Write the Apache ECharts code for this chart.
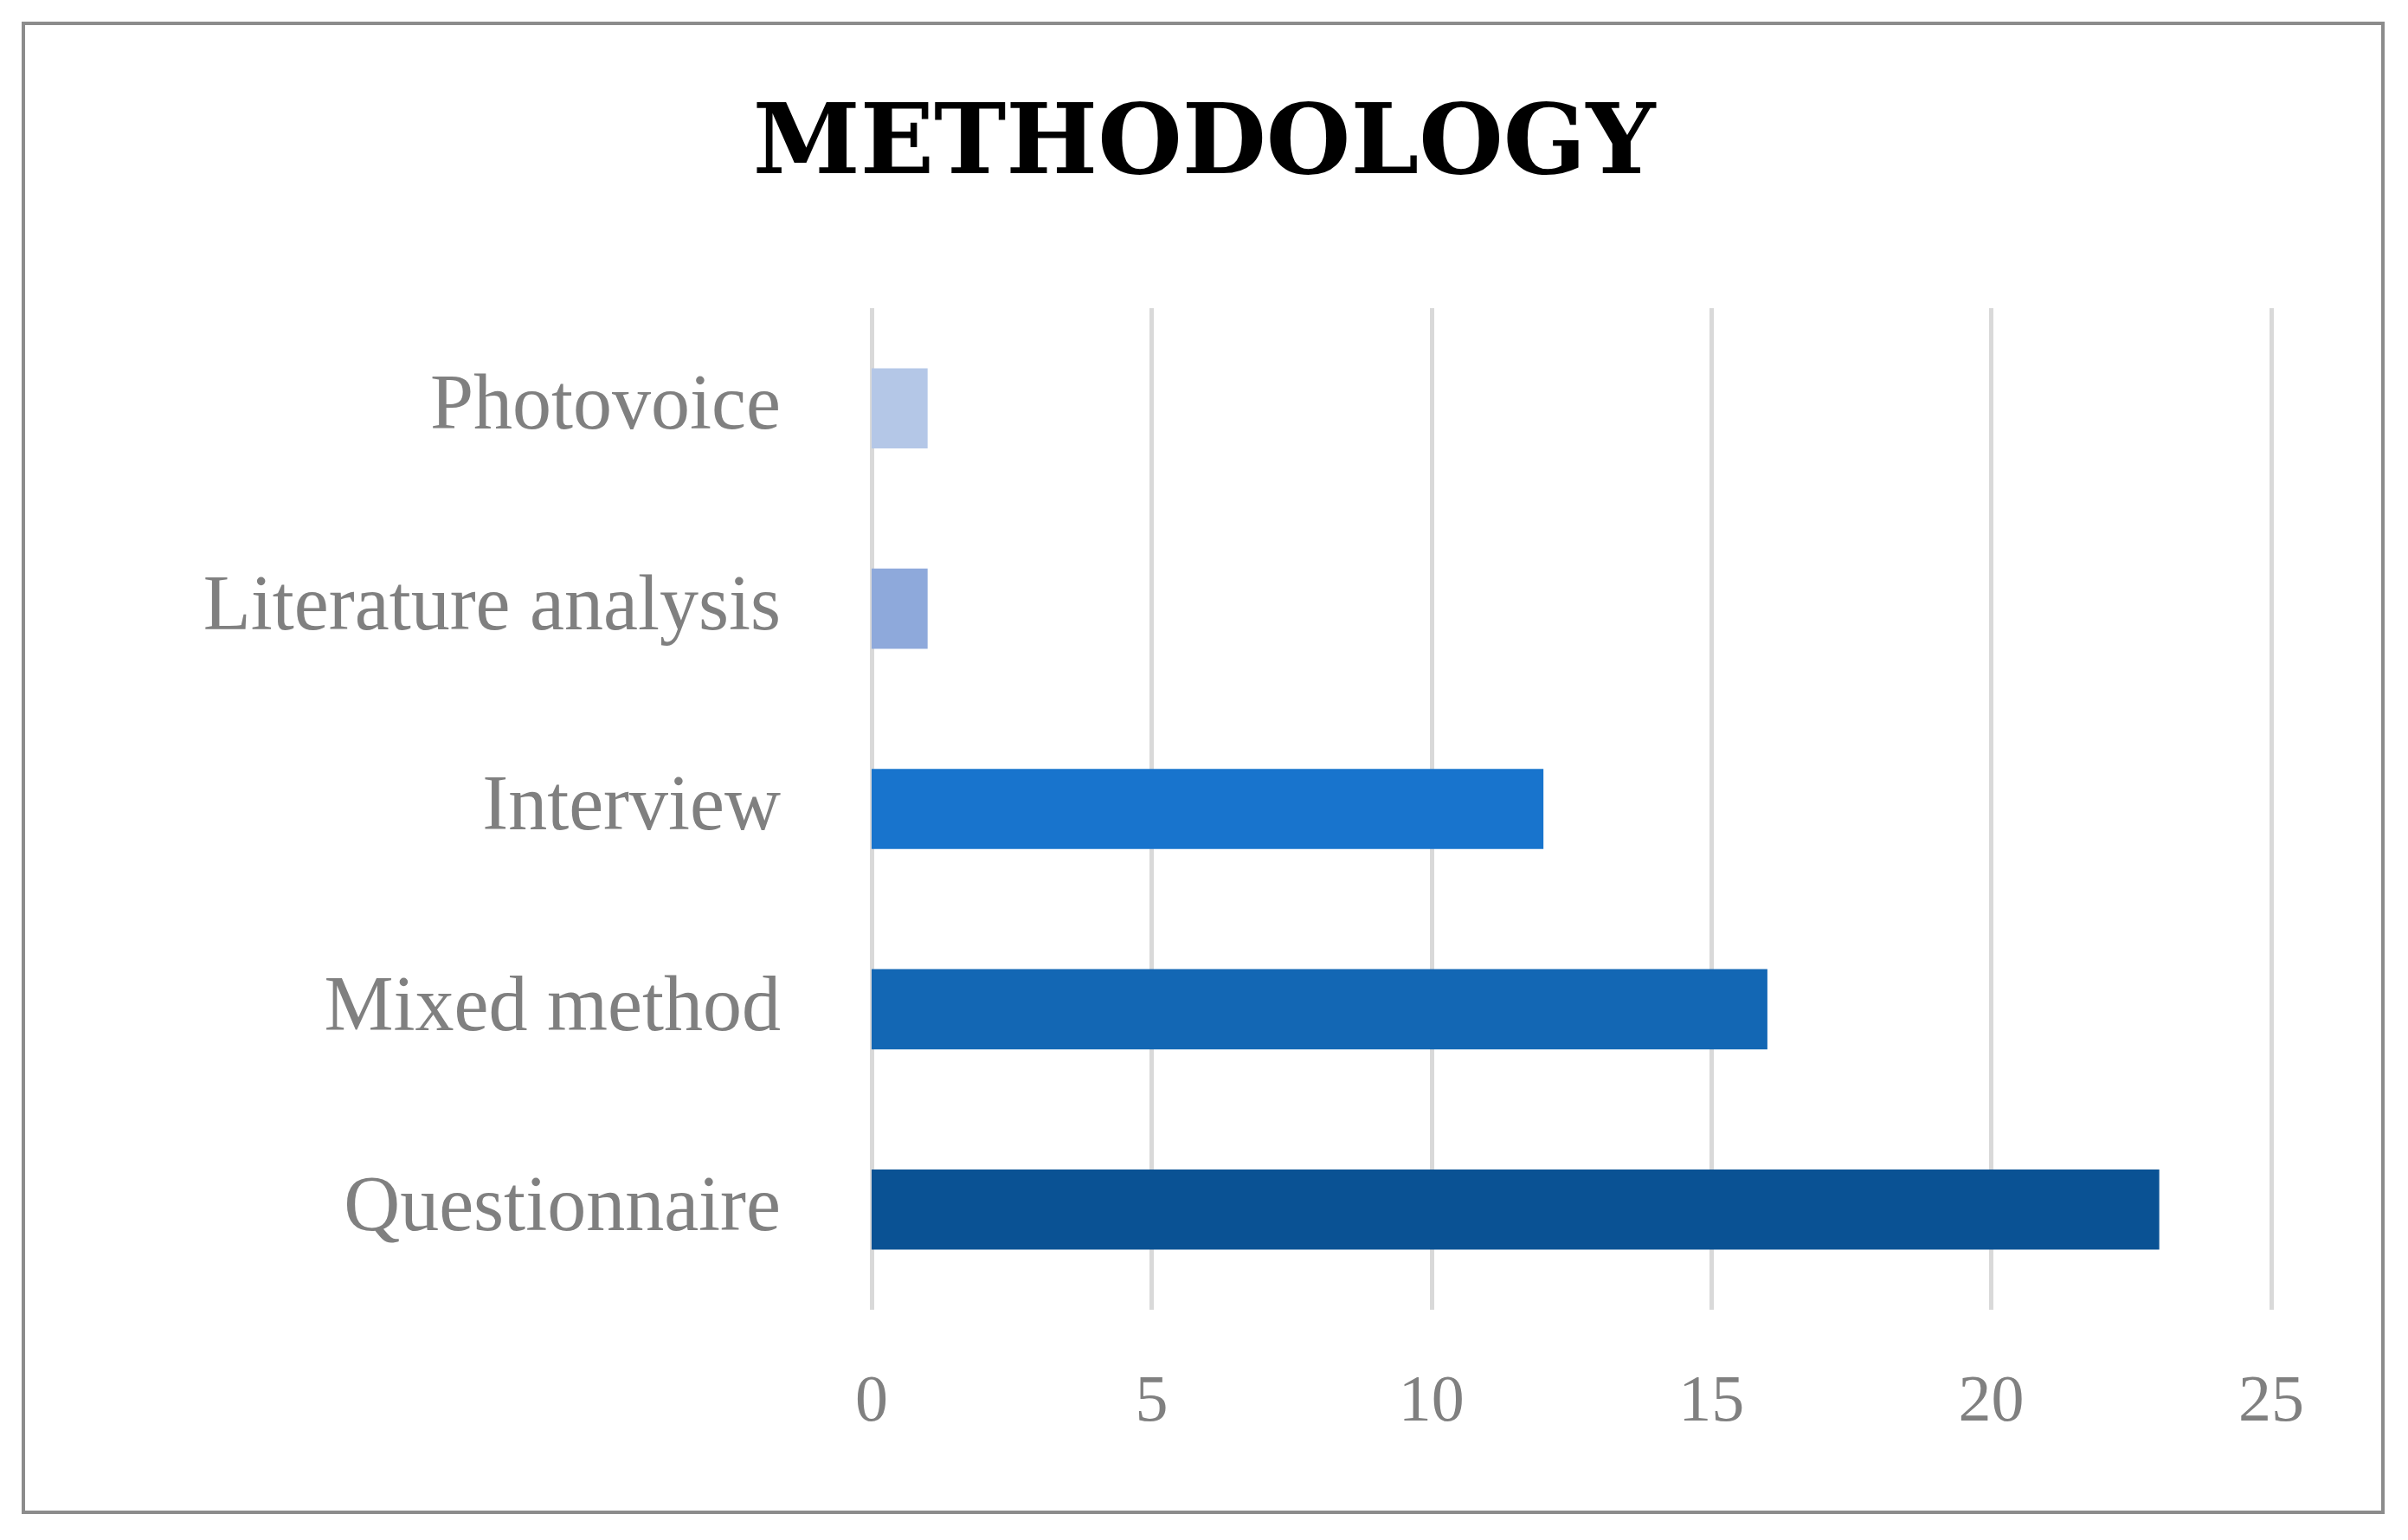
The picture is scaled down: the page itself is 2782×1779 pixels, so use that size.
<!DOCTYPE html>
<html>
<head>
<meta charset="utf-8">
<script src="https://cdn.jsdelivr.net/npm/echarts@6/dist/echarts.min.js"></script>
<style>
html,body{margin:0;padding:0;background:#fff;}
#chart{width:2782px;height:1779px;}
#frame{position:absolute;left:25px;top:25px;width:2730px;height:1724px;border:4px solid #8c8c8c;box-sizing:border-box;pointer-events:none;}
</style>
</head>
<body>
<div id="chart"></div>
<div id="frame"></div>
<script>
const categories = ["Questionnaire", "Mixed method", "Interview", "Literature analysis", "Photovoice"];
const values = [23, 16, 12, 1, 1];
const colors = ["#0A5294", "#1367B4", "#1874CD", "#8EA9DB", "#B4C7E7"];
const xTicks = [0, 5, 10, 15, 20, 25];

const chart = echarts.init(document.getElementById("chart"));
chart.setOption({
  animation: false,
  title: {
    text: "METHODOLOGY",
    left: "center",
    top: 110,
    textStyle: { fontFamily: "DejaVu Serif", fontWeight: "bold", fontSize: 112, color: "#000" }
  },
  grid: { left: 1007, right: 158, top: 356, bottom: 266 },
  xAxis: {
    type: "value",
    min: xTicks[0],
    max: xTicks[xTicks.length - 1],
    interval: 5,
    axisLine: { show: false },
    axisTick: { show: false },
    splitLine: { lineStyle: { color: "#d9d9d9", width: 5 } },
    axisLabel: { fontFamily: "Liberation Serif", fontSize: 76, color: "#808080", margin: 70 }
  },
  yAxis: {
    type: "category",
    data: categories,
    axisLine: { show: false },
    axisTick: { show: false },
    axisLabel: { fontFamily: "Liberation Serif", fontSize: 90, color: "#808080", margin: 105 }
  },
  series: [{
    type: "bar",
    data: values.map((v, i) => ({ value: v, itemStyle: { color: colors[i] } })),
    barWidth: "40%"
  }]
});
</script>
</body>
</html>
